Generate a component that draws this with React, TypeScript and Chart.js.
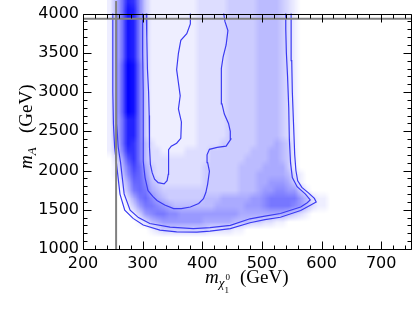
import React, { useEffect, useRef } from "react";
import { Chart, registerables } from "chart.js";

Chart.register(...registerables);

// ---------- axes ----------
const X_MIN = 200;
const X_MAX = 750;
const Y_MIN = 1000;
const Y_MAX = 4000;
const X_TICKS = [200, 300, 400, 500, 600, 700];
const Y_TICKS = [1000, 1500, 2000, 2500, 3000, 3500, 4000];
const X_MINOR_STEP = 20;
const Y_MINOR_STEP = 100;

// ---------- density histogram (hex intensity 0-f per cell) ----------
const X_BINS = [
  240, 250, 260, 270, 280, 290, 300, 310, 320, 330,
  340, 350, 360, 370, 380, 390, 400, 410, 420, 430,
  440, 450, 460, 470, 480, 490, 500, 510, 520, 530,
  540, 550, 560, 570, 580, 590, 600, 610, 620, 630,
];
const X_BIN_WIDTH = 10;
const Y_BINS = [
  4100, 4000, 3900, 3800, 3700, 3600, 3500, 3400, 3300, 3200, 3100,
  3000, 2900, 2800, 2700, 2600, 2500, 2400, 2300, 2200, 2100, 2000,
  1900, 1800, 1700, 1600, 1500, 1400, 1300, 1200, 1100, 1000,
];
const Y_BIN_HEIGHT = 100;
const DENSITY_ROWS = [
  "148dc73111 1111122222 3333344443 2100000000", // 4100
  "148ed73111 1111122222 3333344443 2100000000", // 4000
  "148ed73111 1111122222 3333344443 2100000000", // 3900
  "148ed73111 1111122222 3333344443 2100000000", // 3800
  "148ed73111 1111122222 3333344443 2100000000", // 3700
  "148ed73111 1111122222 3333344443 2100000000", // 3600
  "148ed73111 1111122222 3333344443 2100000000", // 3500
  "148ed73111 1111122222 3333344443 2100000000", // 3400
  "149fe83111 1111122222 3333344443 2100000000", // 3300
  "149fe83111 1111122222 3333344443 2100000000", // 3200
  "149fe83111 1111122222 3333344443 2100000000", // 3100
  "149fe83111 1111122222 3333344443 2100000000", // 3000
  "149fe83111 1111122222 3333344443 2100000000", // 2900
  "149fe83111 1111122222 3333344443 2100000000", // 2800
  "149fe83111 1111122222 3333344443 2100000000", // 2700
  "148dd83111 1111122222 3333344443 2100000000", // 2600
  "148dd83111 1111122222 3333344443 2100000000", // 2500
  "148dd83111 1111122222 3333344443 2100000000", // 2400
  "138dc84211 1111122223 3333344454 3100000000", // 2300
  "137cc84221 1112222333 3333444554 3100000000", // 2200
  "025ac84222 2222222333 3334444554 3100000000", // 2100
  "0148b95322 2222223333 3344445555 3100000000", // 2000
  "0137a96322 2222223333 3344455555 4210000000", // 1900
  "0025997432 2222223333 3344455666 5310000000", // 1800
  "0014898543 3333333333 3344456677 6631000000", // 1700
  "0002589754 3333334445 5555667888 8864211000", // 1600
  "0001368876 5444444455 5556667888 8764211000", // 1500
  "0000136788 7766666666 6655555555 4321000000", // 1400
  "0000012456 6666665555 5444332211 0000000000", // 1300
  "0000000123 3333333222 2110000000 0000000000", // 1200
  "0000000000 0000000000 0000000000 0000000000", // 1100
  "0000000000 0000000000 0000000000 0000000000", // 1000
];

// ---------- contours ([m_chi, m_A]) ----------
const CONTOUR_OUTER: [number, number][] = [
  [250, 4050], [250, 3000], [251, 2600], [253, 2300], [256, 2100], [259, 1900],
  [262, 1700], [270, 1494], [284, 1390], [301, 1306], [329, 1240], [357, 1218],
  [391, 1216], [413, 1228], [447, 1260], [480, 1335], [505, 1375], [531, 1405],
  [565, 1490], [582, 1560], [591, 1598], [588, 1645], [578, 1715], [567, 1785],
  [560, 1870], [557, 2000], [555, 2200], [553, 2600], [551, 3000], [550, 3400],
  [549, 3800], [549, 4050],
];
const CONTOUR_MIDDLE: [number, number][] = [
  [256, 4050], [256, 3000], [257, 2600], [259, 2300], [263, 2100], [266, 1900],
  [269, 1702], [279, 1494], [293, 1400], [312, 1325], [346, 1280], [385, 1260],
  [413, 1272], [447, 1302], [480, 1385], [505, 1420], [531, 1452], [565, 1535],
  [576, 1590], [581, 1625], [573, 1700], [559, 1794], [551, 1910], [548, 2100],
  [546, 2400], [545, 2800], [543, 3200], [541, 3500], [540, 3800], [540, 4050],
];
const CONTOUR_INNER: [number, number][] = [
  [300, 4050], [300, 3500], [301, 3000], [301, 2500], [301, 2119], [304, 1910],
  [309, 1744], [317, 1670], [324, 1619], [337, 1560], [352, 1515], [365, 1515],
  [380, 1535], [394, 1580], [402, 1640], [406, 1720], [409, 1827], [412, 1990],
  [409, 2100], [408, 2200], [412, 2270], [425, 2295], [440, 2310], [448, 2400],
  [447, 2500], [444, 2600], [437, 2720], [433, 2850], [432, 3000], [432, 3300],
  [435, 3450], [440, 3600], [443, 3785], [438, 3900], [435, 4050],
];
const CONTOUR_CORE: [number, number][] = [
  [306, 4050], [307, 3700], [308, 3300], [310, 3000], [311, 2700], [311, 2450],
  [312, 2300], [313, 2077], [316, 1973], [320, 1890], [326, 1845], [336, 1830],
  [341, 1870], [343, 1952], [343, 2119], [344, 2265], [348, 2310], [357, 2348],
  [364, 2410], [365, 2619], [360, 2785], [363, 2952], [360, 3119], [357, 3285],
  [360, 3494], [364, 3660], [374, 3744], [380, 3869], [380, 4050],
];

// ---------- limit lines ----------
const LIMIT_VERTICAL: [number, number][] = [[255.5, 1000], [255.5, 4160]];
const LIMIT_HORIZONTAL: [number, number][] = [[200, 3935], [750, 3935]];

const CONTOUR_COLOR = "#3a3af2";
const TICK_FONT = { family: '"DejaVu Sans", sans-serif', size: 16 };
const SERIF = '"Liberation Serif", "DejaVu Serif", serif';

const toPts = (a: [number, number][]) => a.map(([x, y]) => ({ x, y }));

const heatmapPlugin = {
  id: "heatmap",
  beforeDatasetsDraw(chart: any) {
    const { ctx } = chart;
    const xs = chart.scales.x;
    const ys = chart.scales.y;
    const nx = X_BINS.length;
    const ny = Y_BINS.length;
    const off = document.createElement("canvas");
    off.width = nx;
    off.height = ny;
    const octx = off.getContext("2d")!;
    const img = octx.createImageData(nx, ny);
    DENSITY_ROWS.forEach((row, i) => {
      const cells = row.replace(/ /g, "");
      for (let j = 0; j < nx; j++) {
        const v = parseInt(cells[j], 16) || 0;
        const k = (i * nx + j) * 4;
        img.data[k] = 0;
        img.data[k + 1] = 0;
        img.data[k + 2] = 255;
        img.data[k + 3] = Math.round((v / 15) * 255);
      }
    });
    octx.putImageData(img, 0, 0);
    const x0 = xs.getPixelForValue(X_BINS[0]);
    const x1 = xs.getPixelForValue(X_BINS[nx - 1] + X_BIN_WIDTH);
    const y0 = ys.getPixelForValue(Y_BINS[0] + Y_BIN_HEIGHT);
    const y1 = ys.getPixelForValue(Y_BINS[ny - 1]);
    ctx.save();
    ctx.imageSmoothingEnabled = true;
    ctx.imageSmoothingQuality = "low";
    ctx.drawImage(off, x0, y0, x1 - x0, y1 - y0);
    ctx.restore();
  },
};

const framePlugin = {
  id: "frame",
  afterDatasetsDraw(chart: any) {
    const { ctx, chartArea } = chart;
    const xs = chart.scales.x;
    const ys = chart.scales.y;
    const L = Math.round(chartArea.left) + 0.5;
    const R = Math.round(chartArea.right) + 0.5;
    const T = Math.round(chartArea.top) + 0.5;
    const B = Math.round(chartArea.bottom) + 0.5;
    ctx.save();
    ctx.strokeStyle = "#000";
    ctx.lineWidth = 1;
    ctx.beginPath();
    ctx.rect(L, T, R - L, B - T);
    const MAJ = 8;
    const MIN = 4;
    const xTick = (v: number, len: number) => {
      const p = Math.round(xs.getPixelForValue(v)) + 0.5;
      ctx.moveTo(p, B);
      ctx.lineTo(p, B - len);
      ctx.moveTo(p, T);
      ctx.lineTo(p, T + len);
    };
    const yTick = (v: number, len: number) => {
      const p = Math.round(ys.getPixelForValue(v)) + 0.5;
      ctx.moveTo(L, p);
      ctx.lineTo(L + len, p);
      ctx.moveTo(R, p);
      ctx.lineTo(R - len, p);
    };
    for (let v = X_MIN; v <= X_MAX; v += X_MINOR_STEP) {
      if (!X_TICKS.includes(v)) xTick(v, MIN);
    }
    X_TICKS.forEach((v) => xTick(v, MAJ));
    for (let v = Y_MIN; v <= Y_MAX; v += Y_MINOR_STEP) {
      if (!Y_TICKS.includes(v)) yTick(v, MIN);
    }
    Y_TICKS.forEach((v) => yTick(v, MAJ));
    ctx.stroke();
    ctx.restore();
  },
};

const titlePlugin = {
  id: "titles",
  afterDraw(chart: any) {
    const { ctx } = chart;
    ctx.save();
    ctx.fillStyle = "#000";
    ctx.textAlign = "left";
    ctx.textBaseline = "alphabetic";
    // x-axis title: m_{chi_1^0} (GeV)
    let cx = 205;
    const by = 283;
    ctx.font = `italic 19px ${SERIF}`;
    ctx.fillText("m", cx, by);
    cx += ctx.measureText("m").width;
    ctx.font = `italic 13px ${SERIF}`;
    ctx.fillText("χ", cx, by + 4);
    cx += ctx.measureText("χ").width;
    ctx.font = `9px ${SERIF}`;
    ctx.fillText("1", cx, by + 10);
    ctx.fillText("0", cx + 1, by - 3);
    ctx.font = `19px ${SERIF}`;
    ctx.fillText("(GeV)", 240, by);
    // y-axis title: m_A (GeV)
    ctx.translate(32, 169);
    ctx.rotate(-Math.PI / 2);
    let lx = 0;
    ctx.font = `italic 19px ${SERIF}`;
    ctx.fillText("m", lx, 0);
    lx += ctx.measureText("m").width;
    ctx.font = `italic 13px ${SERIF}`;
    ctx.fillText("A", lx, 4);
    ctx.font = `19px ${SERIF}`;
    ctx.fillText("(GeV)", 36, 0);
    ctx.restore();
  },
};

export default function App() {
  const ref = useRef<HTMLCanvasElement>(null);
  useEffect(() => {
    if (!ref.current) return;
    const lineDs = (label: string, pts: [number, number][], color: string, width: number, clip?: boolean) => ({
      label,
      data: toPts(pts),
      showLine: true,
      borderColor: color,
      backgroundColor: color,
      borderWidth: width,
      pointRadius: 0,
      fill: false,
      tension: 0,
      ...(clip === false ? { clip: false } : {}),
    });
    const chart = new Chart(ref.current, {
      type: "scatter",
      data: {
        datasets: [
          lineDs("limit-v", LIMIT_VERTICAL, "#808080", 2, false),
          lineDs("limit-h", LIMIT_HORIZONTAL, "#808080", 2),
          lineDs("outer", CONTOUR_OUTER, CONTOUR_COLOR, 1.2),
          lineDs("middle", CONTOUR_MIDDLE, CONTOUR_COLOR, 1.2),
          lineDs("inner", CONTOUR_INNER, CONTOUR_COLOR, 1.2),
          lineDs("core", CONTOUR_CORE, CONTOUR_COLOR, 1.2),
        ] as any,
      },
      options: {
        responsive: false,
        animation: false,
        devicePixelRatio: 1,
        layout: { padding: { top: 9, right: 5, left: 0, bottom: 0 } },
        plugins: { legend: { display: false }, tooltip: { enabled: false } },
        scales: {
          x: {
            type: "linear",
            min: X_MIN,
            max: X_MAX,
            grid: { display: false, drawTicks: false },
            border: { display: false },
            ticks: {
              font: TICK_FONT,
              color: "#000",
              padding: 5,
              maxRotation: 0,
              autoSkip: false,
              callback: (v: any) => String(v),
            },
            afterBuildTicks: (s: any) => {
              s.ticks = X_TICKS.map((value) => ({ value }));
            },
            afterFit: (s: any) => {
              s.height = 63;
            },
          },
          y: {
            type: "linear",
            min: Y_MIN,
            max: Y_MAX,
            grid: { display: false, drawTicks: false },
            border: { display: false },
            ticks: {
              font: TICK_FONT,
              color: "#000",
              padding: 4,
              autoSkip: false,
              callback: (v: any) => String(v),
            },
            afterBuildTicks: (s: any) => {
              s.ticks = Y_TICKS.map((value) => ({ value }));
            },
            afterFit: (s: any) => {
              s.width = 83;
            },
          },
        },
      } as any,
      plugins: [heatmapPlugin, framePlugin, titlePlugin],
    });
    return () => chart.destroy();
  }, []);
  return (
    <div style={{ position: "fixed", left: 0, top: 0, width: 416, height: 312, background: "#fff" }}>
      <canvas ref={ref} width={416} height={312} style={{ display: "block", width: 416, height: 312 }} />
    </div>
  );
}
